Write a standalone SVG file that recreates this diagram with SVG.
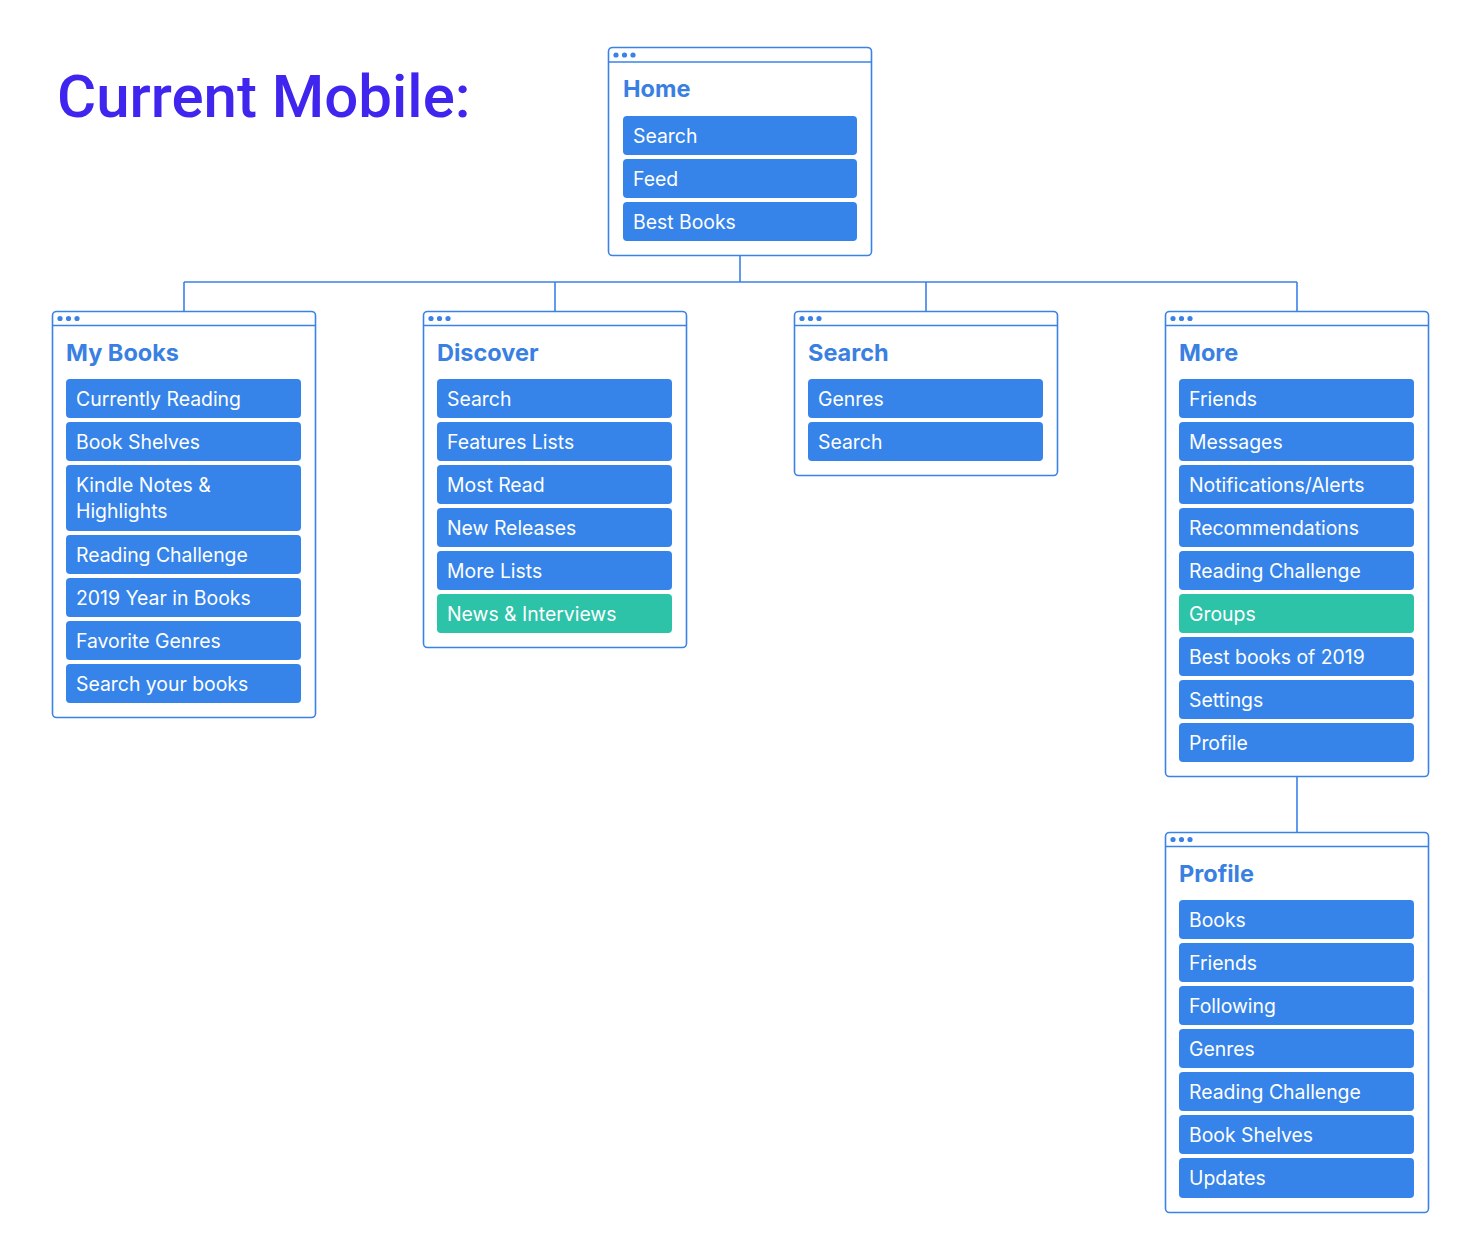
<svg xmlns="http://www.w3.org/2000/svg" width="1467" height="1237" viewBox="0 0 1467 1237">
<style>
.frame{fill:#fff;stroke:#3b82e6;stroke-width:1.6}
.hdr{stroke:#3b82e6;stroke-width:1.6}
.dot{fill:#3b82e6}
.ttl{font-family:Inter,"Noto Sans",sans-serif;font-weight:700;font-size:23.5px;fill:#3a80e2}
.btn{fill:#3684ea}
.btn.g{fill:#2cc3a9}
.bt{font-family:Inter,"Noto Sans",sans-serif;font-size:19.4px;fill:#fff}
.conn{fill:none;stroke:#3b82e6;stroke-width:1.6}
.big{font-family:Roboto,"Liberation Sans",sans-serif;font-weight:500;font-size:60px;fill:#4025ee}
</style>
<rect width="1467" height="1237" fill="#fff"/>
<text class="big" x="57" y="117">Current Mobile:</text>
<g id="connectors">
<path class="conn" d="M740 256V282M184 282H1297M184 282V311M555 282V311M926 282V311M1297 282V311M1297 777V832"/>
</g>
<g id="home">
<rect class="frame" x="608.5" y="47.5" width="263" height="208" rx="4"/>
<line class="hdr" x1="608.5" y1="62" x2="871.5" y2="62"/>
<circle class="dot" cx="616" cy="55" r="2.6"/><circle class="dot" cx="624.5" cy="55" r="2.6"/><circle class="dot" cx="633" cy="55" r="2.6"/>
<text class="ttl" x="623" y="97">Home</text>
<rect class="btn" x="623" y="116" width="234" height="39" rx="4"/><text class="bt" x="633" y="143">Search</text>
<rect class="btn" x="623" y="159" width="234" height="39" rx="4"/><text class="bt" x="633" y="186">Feed</text>
<rect class="btn" x="623" y="202" width="234" height="39" rx="4"/><text class="bt" x="633" y="229">Best Books</text>
</g>
<g id="mybooks">
<rect class="frame" x="52.5" y="311.5" width="263" height="406" rx="4"/>
<line class="hdr" x1="52.5" y1="325.5" x2="315.5" y2="325.5"/>
<circle class="dot" cx="60" cy="318.5" r="2.6"/><circle class="dot" cx="68.5" cy="318.5" r="2.6"/><circle class="dot" cx="77" cy="318.5" r="2.6"/>
<text class="ttl" x="66" y="361">My Books</text>
<rect class="btn" x="66" y="379" width="235" height="39" rx="4"/><text class="bt" x="76" y="406">Currently Reading</text>
<rect class="btn" x="66" y="422" width="235" height="39" rx="4"/><text class="bt" x="76" y="449">Book Shelves</text>
<rect class="btn" x="66" y="465" width="235" height="66" rx="4"/><text class="bt" x="76" y="492">Kindle Notes &amp;</text><text class="bt" x="76" y="518">Highlights</text>
<rect class="btn" x="66" y="535" width="235" height="39" rx="4"/><text class="bt" x="76" y="562">Reading Challenge</text>
<rect class="btn" x="66" y="578" width="235" height="39" rx="4"/><text class="bt" x="76" y="605">2019 Year in Books</text>
<rect class="btn" x="66" y="621" width="235" height="39" rx="4"/><text class="bt" x="76" y="648">Favorite Genres</text>
<rect class="btn" x="66" y="664" width="235" height="39" rx="4"/><text class="bt" x="76" y="691">Search your books</text>
</g>
<g id="discover">
<rect class="frame" x="423.5" y="311.5" width="263" height="336" rx="4"/>
<line class="hdr" x1="423.5" y1="325.5" x2="686.5" y2="325.5"/>
<circle class="dot" cx="431" cy="318.5" r="2.6"/><circle class="dot" cx="439.5" cy="318.5" r="2.6"/><circle class="dot" cx="448" cy="318.5" r="2.6"/>
<text class="ttl" x="437" y="361">Discover</text>
<rect class="btn" x="437" y="379" width="235" height="39" rx="4"/><text class="bt" x="447" y="406">Search</text>
<rect class="btn" x="437" y="422" width="235" height="39" rx="4"/><text class="bt" x="447" y="449">Features Lists</text>
<rect class="btn" x="437" y="465" width="235" height="39" rx="4"/><text class="bt" x="447" y="492">Most Read</text>
<rect class="btn" x="437" y="508" width="235" height="39" rx="4"/><text class="bt" x="447" y="535">New Releases</text>
<rect class="btn" x="437" y="551" width="235" height="39" rx="4"/><text class="bt" x="447" y="578">More Lists</text>
<rect class="btn g" x="437" y="594" width="235" height="39" rx="4"/><text class="bt" x="447" y="621">News &amp; Interviews</text>
</g>
<g id="search">
<rect class="frame" x="794.5" y="311.5" width="263" height="164" rx="4"/>
<line class="hdr" x1="794.5" y1="325.5" x2="1057.5" y2="325.5"/>
<circle class="dot" cx="802" cy="318.5" r="2.6"/><circle class="dot" cx="810.5" cy="318.5" r="2.6"/><circle class="dot" cx="819" cy="318.5" r="2.6"/>
<text class="ttl" x="808" y="361">Search</text>
<rect class="btn" x="808" y="379" width="235" height="39" rx="4"/><text class="bt" x="818" y="406">Genres</text>
<rect class="btn" x="808" y="422" width="235" height="39" rx="4"/><text class="bt" x="818" y="449">Search</text>
</g>
<g id="more">
<rect class="frame" x="1165.5" y="311.5" width="263" height="465" rx="4"/>
<line class="hdr" x1="1165.5" y1="325.5" x2="1428.5" y2="325.5"/>
<circle class="dot" cx="1173" cy="318.5" r="2.6"/><circle class="dot" cx="1181.5" cy="318.5" r="2.6"/><circle class="dot" cx="1190" cy="318.5" r="2.6"/>
<text class="ttl" x="1179" y="361">More</text>
<rect class="btn" x="1179" y="379" width="235" height="39" rx="4"/><text class="bt" x="1189" y="406">Friends</text>
<rect class="btn" x="1179" y="422" width="235" height="39" rx="4"/><text class="bt" x="1189" y="449">Messages</text>
<rect class="btn" x="1179" y="465" width="235" height="39" rx="4"/><text class="bt" x="1189" y="492">Notifications/Alerts</text>
<rect class="btn" x="1179" y="508" width="235" height="39" rx="4"/><text class="bt" x="1189" y="535">Recommendations</text>
<rect class="btn" x="1179" y="551" width="235" height="39" rx="4"/><text class="bt" x="1189" y="578">Reading Challenge</text>
<rect class="btn g" x="1179" y="594" width="235" height="39" rx="4"/><text class="bt" x="1189" y="621">Groups</text>
<rect class="btn" x="1179" y="637" width="235" height="39" rx="4"/><text class="bt" x="1189" y="664">Best books of 2019</text>
<rect class="btn" x="1179" y="680" width="235" height="39" rx="4"/><text class="bt" x="1189" y="707">Settings</text>
<rect class="btn" x="1179" y="723" width="235" height="39" rx="4"/><text class="bt" x="1189" y="750">Profile</text>
</g>
<g id="profile">
<rect class="frame" x="1165.5" y="832.5" width="263" height="380" rx="4"/>
<line class="hdr" x1="1165.5" y1="846.5" x2="1428.5" y2="846.5"/>
<circle class="dot" cx="1173" cy="839.5" r="2.6"/><circle class="dot" cx="1181.5" cy="839.5" r="2.6"/><circle class="dot" cx="1190" cy="839.5" r="2.6"/>
<text class="ttl" x="1179" y="882">Profile</text>
<rect class="btn" x="1179" y="900" width="235" height="39" rx="4"/><text class="bt" x="1189" y="927">Books</text>
<rect class="btn" x="1179" y="943" width="235" height="39" rx="4"/><text class="bt" x="1189" y="970">Friends</text>
<rect class="btn" x="1179" y="986" width="235" height="39" rx="4"/><text class="bt" x="1189" y="1013">Following</text>
<rect class="btn" x="1179" y="1029" width="235" height="39" rx="4"/><text class="bt" x="1189" y="1056">Genres</text>
<rect class="btn" x="1179" y="1072" width="235" height="39" rx="4"/><text class="bt" x="1189" y="1099">Reading Challenge</text>
<rect class="btn" x="1179" y="1115" width="235" height="39" rx="4"/><text class="bt" x="1189" y="1142">Book Shelves</text>
<rect class="btn" x="1179" y="1158" width="235" height="40" rx="4"/><text class="bt" x="1189" y="1185">Updates</text>
</g>
</svg>
